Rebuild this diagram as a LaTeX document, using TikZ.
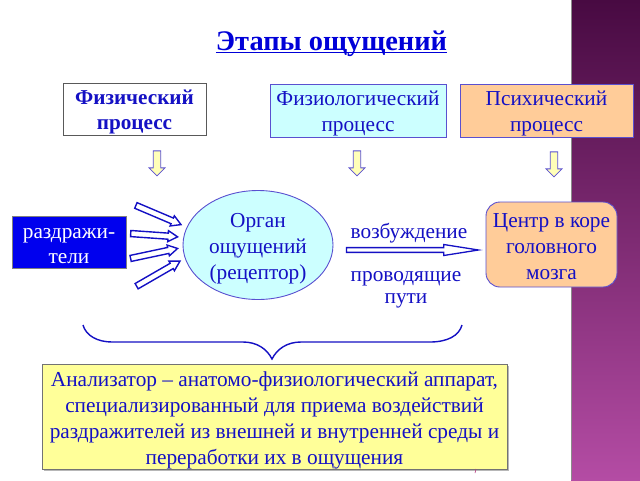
\documentclass[tikz,border=0pt]{standalone}
\usepackage{fontspec}
\setmainfont{Liberation Serif}
\usetikzlibrary{shapes.arrows,shapes.geometric,shadows}
\definecolor{ink}{HTML}{1410C4}
\definecolor{titleink}{HTML}{0000D8}
\definecolor{edge}{HTML}{5A50D0}
\definecolor{paleblue}{HTML}{CCFFFF}
\definecolor{peach}{HTML}{FFCC99}
\definecolor{paleyellow}{HTML}{FFFF99}
\tikzset{
  txt/.style={text=ink,align=center,inner sep=0pt,font=\fontsize{21.3}{25.8}\selectfont},
  boxn/.style={draw=edge,line width=0.9pt,inner sep=0pt},
  downarrow/.style={single arrow,shape border rotate=270,draw=edge,fill=paleyellow!70!white,line width=0.8pt,
    minimum height=25pt,minimum width=16pt,inner sep=2.6pt,single arrow head extend=3.5pt,single arrow tip angle=90},
  stimarrow/.style={single arrow,draw=ink,fill=white,line width=1.4pt,
    minimum width=11pt,inner sep=1.8pt,single arrow head extend=2pt,single arrow tip angle=60},
}
\begin{document}
\begin{tikzpicture}[x=1pt,y=-1pt]
\useasboundingbox (0,0) rectangle (640,480);
\fill[white] (0,0) rectangle (640,480);
\shade[top color={rgb,255:red,72;green,10;blue,66},bottom color={rgb,255:red,180;green,76;blue,164}] (571,0) rectangle (640,480);
\draw[black!45,line width=0.6pt] (571,0) -- (571,480);

\node[txt,text=titleink,font=\fontsize{28.4}{32}\selectfont\bfseries,anchor=base] (title) at (331.5,50) {Этапы ощущений};
\draw[titleink,line width=1.5pt] ([yshift=-2.5pt]title.base west) -- ([yshift=-2.5pt]title.base east);

\node[draw=black!65,line width=0.8pt,fill=white,minimum width=143pt,minimum height=52pt,inner sep=0pt] (phys) at (134.5,109) {};
\node[txt,font=\fontsize{21.2}{25}\selectfont\bfseries] (physT) at (134.5,112) {Физический\\процесс};
\node[boxn,fill=paleblue,minimum width=176pt,minimum height=53pt] (physio) at (358,110.5) {};
\node[txt] (physioT) at (358,113.5) {Физиологический\\процесс};
\node[boxn,fill=peach,minimum width=173pt,minimum height=53pt] (psych) at (546.5,110.5) {};
\node[txt] (psychT) at (546.5,113.5) {Психический\\процесс};

\node[downarrow] (d1) at (157,161.5) {};
\node[downarrow] (d2) at (357,161.5) {};
\node[downarrow] (d3) at (554,162.5) {};

\node[draw=black!50,line width=0.8pt,fill={rgb,255:red,0;green,0;blue,238},minimum width=114pt,minimum height=52pt,inner sep=0pt] (stim) at (69,242) {};
\node[txt,text=white] (stimT) at (69,246) {раздражи-\\тели};

\node[ellipse,boxn,fill=paleblue,minimum width=150pt,minimum height=109pt] (organ) at (258,245) {};
\node[txt] (organT) at (258,249) {Орган\\ощущений\\(рецептор)};

\node[stimarrow,minimum height=49pt,rotate=-23] (a1) at (156,214) {};
\node[stimarrow,minimum height=47pt,rotate=-4] (a2) at (151.5,235) {};
\node[stimarrow,minimum height=48pt,rotate=12] (a3) at (151.5,254) {};
\node[stimarrow,minimum height=50pt,rotate=30] (a4) at (156,275) {};

\node[txt] (exc) at (409,233) {возбуждение};
\node[single arrow,draw=ink,fill=white,line width=1.3pt,minimum height=132pt,minimum width=11pt,inner sep=1.6pt,single arrow head extend=3pt,single arrow tip angle=18] (path) at (405,250) {};
\node[txt,font=\fontsize{21.3}{21.5}\selectfont] (cond) at (406,290) {проводящие\\пути};

\node[rounded corners=14pt,draw=edge,line width=0.9pt,fill=peach,minimum width=131pt,minimum height=85pt,inner sep=0pt] (center) at (551.5,244.5) {};
\node[txt] (centerT) at (551.5,246.5) {Центр в коре\\головного\\мозга};

\coordinate (bl) at (83,325);
\coordinate (br) at (462,325);
\coordinate (bt) at (272,359);
\draw[ink,line width=1.4pt] (bl) .. controls (86,336) and (98,342) .. (112,342) -- (243,342)
  .. controls (257,342) and (267,349) .. (bt) .. controls (277,349) and (287,342) .. (301,342)
  -- (430,342) .. controls (447,342) and (459,336) .. (br);

\node[draw=black!55,line width=0.9pt,fill=paleyellow,drop shadow={shadow xshift=1.5pt,shadow yshift=-1.5pt,fill=black!40,opacity=0.7},minimum width=465pt,minimum height=105pt,inner sep=0pt] (analyzer) at (274.5,416.5) {};
\node[txt] (analyzerT) at (274.5,420.5) {Анализатор – анатомо-физиологический аппарат,\\специализированный для приема воздействий\\раздражителей из внешней и внутренней среды и\\переработки их в ощущения};
\draw[magenta!70!black,line width=0.6pt] (476,469) -- (475,473);
\end{tikzpicture}
\end{document}
